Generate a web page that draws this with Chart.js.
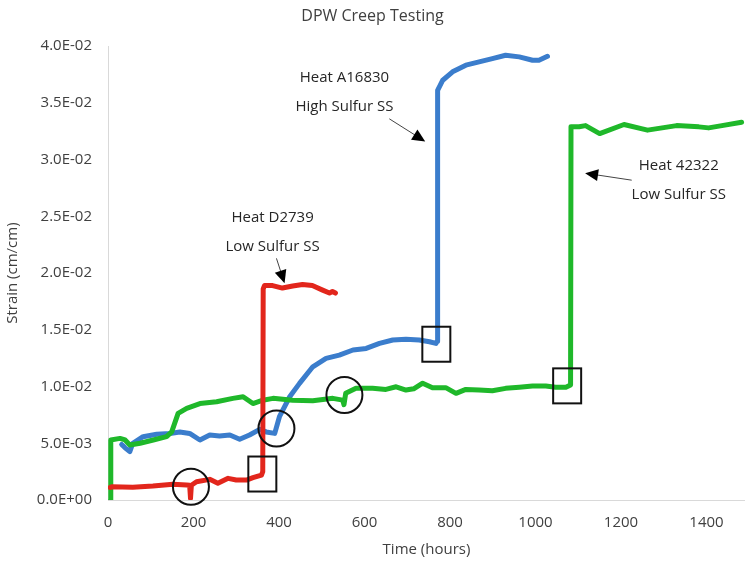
<!DOCTYPE html>
<html>
<head>
<meta charset="utf-8">
<script src="https://cdn.jsdelivr.net/npm/chart.js@4"></script>
<style>
  html, body { margin: 0; padding: 0; background: #fff; }
</style>
</head>
<body>
<canvas id="chart" width="745" height="562"></canvas>
<script>
// Heat D2739 (red)
const redHours = [5, 9, 58, 105, 152, 184, 191, 193, 195, 207, 238, 257, 281, 300, 324, 339, 359, 362, 363, 366, 385, 408, 432, 455, 478, 502, 518, 525, 532]
const redStrain = [0.0011, 0.00117, 0.00112, 0.00123, 0.00138, 0.00132, 0.0013, 0.00015, 0.0013, 0.00161, 0.00182, 0.00147, 0.00191, 0.00176, 0.00176, 0.00197, 0.0022, 0.0025, 0.0186, 0.0189, 0.0189, 0.01868, 0.01886, 0.019, 0.0189, 0.0185, 0.01824, 0.01838, 0.01824]

// Heat A16830 (blue)
const blueHours = [32, 40, 51, 58, 82, 114, 145, 168, 191, 215, 238, 261, 285, 308, 331, 355, 370, 390, 401, 425, 448, 479, 510, 541, 573, 604, 635, 666, 697, 728, 752, 767, 770, 771, 783, 806, 837, 868, 899, 930, 962, 993, 1008, 1028]
const blueStrain = [0.0049, 0.0046, 0.00426, 0.005, 0.00558, 0.0058, 0.00587, 0.006, 0.00587, 0.00529, 0.00573, 0.00564, 0.00573, 0.00535, 0.00573, 0.00623, 0.006, 0.00587, 0.00734, 0.0091, 0.01028, 0.01174, 0.01248, 0.01277, 0.01322, 0.01336, 0.0138, 0.0141, 0.01416, 0.0141, 0.01395, 0.0138, 0.014, 0.0361, 0.037, 0.03774, 0.03833, 0.03862, 0.03891, 0.0392, 0.03906, 0.03876, 0.03876, 0.03911]

// Heat 42322 (green)
const greenHours = [6, 6.5, 28, 40, 51, 75, 106, 137, 149, 164, 184, 215, 254, 292, 316, 339, 362, 386, 432, 479, 526, 549, 552, 556, 580, 619, 650, 674, 697, 715, 736, 759, 790, 814, 837, 868, 899, 930, 962, 993, 1024, 1047, 1071, 1082, 1083, 1102, 1117, 1150, 1207, 1262, 1330, 1382, 1405, 1436, 1482]
const greenStrain = [0, 0.00529, 0.00543, 0.00529, 0.00485, 0.005, 0.00529, 0.00558, 0.006, 0.00764, 0.00808, 0.0085, 0.00866, 0.00896, 0.0091, 0.0085, 0.0088, 0.00896, 0.0088, 0.00875, 0.00896, 0.0088, 0.0084, 0.0094, 0.00984, 0.00984, 0.00975, 0.00998, 0.00969, 0.0098, 0.0103, 0.0099, 0.0099, 0.0094, 0.00975, 0.00969, 0.00963, 0.00984, 0.00993, 0.01004, 0.01004, 0.00993, 0.00993, 0.01013, 0.0329, 0.0329, 0.033, 0.0323, 0.0331, 0.0326, 0.033, 0.03289, 0.0328, 0.033, 0.0333]

// axis ranges
const hourMax = 1490
const hourStep = 200
const strainMax = 0.04
const strainStep = 0.005

// markers on the plot (hours, strain)
const circleMarks = [[194, 0.00117], [394, 0.0063], [553, 0.00925]]
const boxMarks = [[361, 0.00229], [768, 0.01373], [1074, 0.01006]]

const notes = [
  { lines: ["Heat D2739", "Low Sulfur SS"], at: [385, 0.02484], from: [394, 0.0213], to: [413, 0.0191] },
  { lines: ["Heat A16830", "High Sulfur SS"], at: [553, 0.0372], from: [658, 0.0336], to: [742, 0.0316] },
  { lines: ["Heat 42322", "Low Sulfur SS"], at: [1335, 0.02943], from: [1225, 0.02819], to: [1116, 0.02881] },
]

const fontName = "'Open Sans', 'DejaVu Sans', sans-serif"

function pairs(xs, ys) {
  return xs.map((x, i) => ({ x, y: ys[i] }))
}

function sci(v) {
  if (Math.abs(v) < 1e-12) return "0.0E+00"
  const exp = Math.floor(Math.log10(Math.abs(v)) + 1e-9)
  const m = v / Math.pow(10, exp)
  const sign = exp < 0 ? "-" : "+"
  return m.toFixed(1) + "E" + sign + String(Math.abs(exp)).padStart(2, "0")
}

function series(data, color) {
  return {
    data,
    showLine: true,
    borderColor: color,
    backgroundColor: color,
    borderWidth: 5,
    pointRadius: 0,
    borderCapStyle: "round",
    borderJoinStyle: "round",
    tension: 0,
  }
}

// circles, boxes, notes and arrows
const annotate = {
  id: "annotate",
  afterDatasetsDraw(chart) {
    const { ctx } = chart
    const x = chart.scales.x
    const y = chart.scales.y
    ctx.save()
    ctx.strokeStyle = "#111"
    ctx.lineWidth = 2
    circleMarks.forEach(([h, s]) => {
      ctx.beginPath()
      ctx.arc(x.getPixelForValue(h), y.getPixelForValue(s), 18, 0, Math.PI * 2)
      ctx.stroke()
    })
    boxMarks.forEach(([h, s]) => {
      const px = x.getPixelForValue(h)
      const py = y.getPixelForValue(s)
      ctx.strokeRect(px - 14, py - 17.5, 28, 35)
    })

    ctx.font = "15px " + fontName
    ctx.textAlign = "center"
    ctx.textBaseline = "middle"
    notes.forEach((n) => {
      const px = x.getPixelForValue(n.at[0])
      const py = y.getPixelForValue(n.at[1])
      ctx.fillStyle = "#262626"
      n.lines.forEach((t, i) => ctx.fillText(t, px, py + i * 29))

      const x1 = x.getPixelForValue(n.from[0])
      const y1 = y.getPixelForValue(n.from[1])
      const x2 = x.getPixelForValue(n.to[0])
      const y2 = y.getPixelForValue(n.to[1])
      const ang = Math.atan2(y2 - y1, x2 - x1)
      const c = Math.cos(ang)
      const s = Math.sin(ang)
      ctx.strokeStyle = "#444"
      ctx.lineWidth = 1
      ctx.beginPath()
      ctx.moveTo(x1, y1)
      ctx.lineTo(x2 - c * 8, y2 - s * 8)
      ctx.stroke()
      ctx.fillStyle = "#000"
      ctx.beginPath()
      ctx.moveTo(x2, y2)
      ctx.lineTo(x2 - c * 13 + s * 6, y2 - s * 13 - c * 6)
      ctx.lineTo(x2 - c * 13 - s * 6, y2 - s * 13 + c * 6)
      ctx.closePath()
      ctx.fill()
    })
    ctx.restore()
  },
}

new Chart(document.getElementById("chart"), {
  type: "scatter",
  data: {
    datasets: [
      series(pairs(redHours, redStrain), "#e2261c"),
      series(pairs(greenHours, greenStrain), "#1fb82a"),
      series(pairs(blueHours, blueStrain), "#3b7dcc"),
    ],
  },
  options: {
    responsive: false,
    animation: false,
    layout: { padding: 0 },
    plugins: {
      legend: { display: false },
      tooltip: { enabled: false },
      title: {
        display: true,
        text: "DPW Creep Testing",
        color: "#404040",
        font: { family: fontName, size: 16, weight: "normal" },
        padding: { top: 7, bottom: 20 },
      },
    },
    scales: {
      x: {
        type: "linear",
        min: 0,
        max: hourMax,
        ticks: {
          stepSize: hourStep,
          includeBounds: false,
          autoSkip: false,
          color: "#404040",
          font: { family: fontName, size: 15 },
          padding: 14,
          maxRotation: 0,
          callback: (v) => String(v),
        },
        grid: { color: "transparent", drawTicks: false },
        border: { color: "#d9d9d9", width: 1 },
        title: {
          display: true,
          text: "Time (hours)",
          color: "#404040",
          font: { family: fontName, size: 15 },
          padding: { top: 0, bottom: 3 },
        },
        afterFit: (s) => { s.height = 62 },
      },
      y: {
        min: 0,
        max: strainMax,
        ticks: {
          stepSize: strainStep,
          color: "#404040",
          font: { family: fontName, size: 15 },
          padding: 16,
          callback: (v) => sci(v),
        },
        grid: { color: "transparent", drawTicks: false },
        border: { color: "#d9d9d9", width: 1 },
        title: {
          display: true,
          text: "Strain (cm/cm)",
          color: "#404040",
          font: { family: fontName, size: 15 },
          padding: { top: 4, bottom: 0 },
        },
        afterFit: (s) => { s.width = 108 },
      },
    },
  },
  plugins: [annotate],
})
</script>
</body>
</html>
